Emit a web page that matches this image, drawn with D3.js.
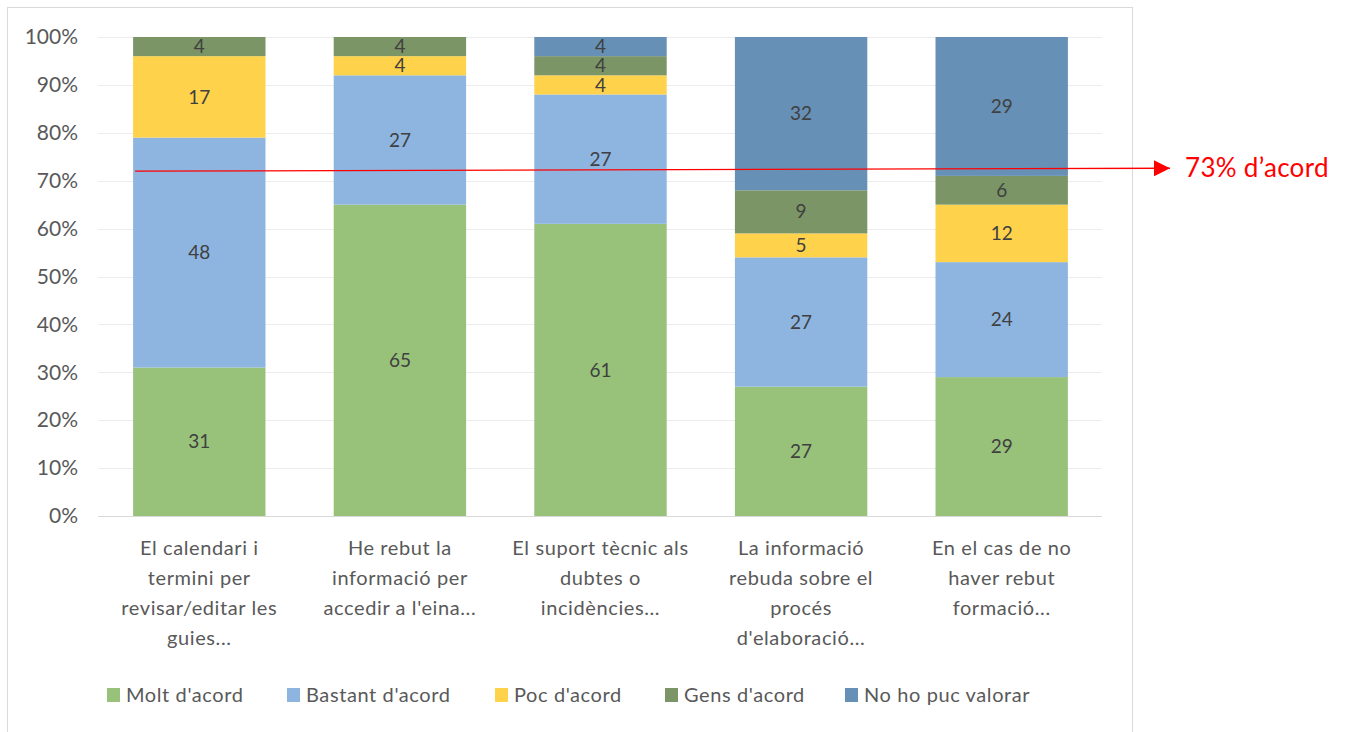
<!DOCTYPE html>
<html>
<head>
<meta charset="utf-8">
<script src="https://cdn.jsdelivr.net/npm/d3@7"></script>
<style>
  body { margin: 0; background: #fff; }
  text { font-family: Lato, "Open Sans", sans-serif; }
</style>
</head>
<body>
<script>
// categories (x axis labels, already wrapped)
var categories = [
  ["El calendari i", "termini per", "revisar/editar les", "guies..."],
  ["He rebut la", "informació per", "accedir a l'eina..."],
  ["El suport tècnic als", "dubtes o", "incidències..."],
  ["La informació", "rebuda sobre el", "procés", "d'elaboració..."],
  ["En el cas de no", "haver rebut", "formació..."]
];
var seriesNames = ["Molt d'acord", "Bastant d'acord", "Poc d'acord", "Gens d'acord", "No ho puc valorar"];
var molt    = [31, 65, 61, 27, 29];
var bastant = [48, 27, 27, 27, 24];
var poc     = [17, 4, 4, 5, 12];
var gens    = [4, 4, 4, 9, 6];
var noPuc   = [0, 0, 4, 32, 29];
var yTicks  = [0, 10, 20, 30, 40, 50, 60, 70, 80, 90, 100];
var refLine = [72, 72.6];
var refLabel = "73% d’acord";

var colors = ["#98c27a", "#8db5e0", "#ffd24b", "#7b9566", "#6790b6"];

var width = 1353, height = 732;
var svg = d3.select("body").append("svg")
  .attr("width", width).attr("height", height);

// marc del gràfic
svg.append("rect")
  .attr("x", 7.5).attr("y", 7.5)
  .attr("width", 1125).attr("height", 730)
  .attr("fill", "none").attr("stroke", "#d9d9d9");

var x = d3.scaleBand()
  .domain(d3.range(categories.length))
  .range([99, 1102])
  .paddingInner(0.34).paddingOuter(0.17);

var y = d3.scaleLinear().domain([0, 100]).range([516, 37]);

// graella
svg.append("g").selectAll("line")
  .data(yTicks)
  .join("line")
  .attr("x1", 98).attr("x2", 1102)
  .attr("y1", d => Math.round(y(d)) + 0.5)
  .attr("y2", d => Math.round(y(d)) + 0.5)
  .attr("stroke", d => d == 0 ? "#d9d9d9" : "#ececec")
  .attr("stroke-width", 1);

// eix y
var yAxis = svg.append("g")
  .attr("transform", "translate(90,0)")
  .call(d3.axisLeft(y).tickValues(yTicks).tickFormat(d => d + "%").tickSize(0).tickPadding(12));
yAxis.select(".domain").remove();
yAxis.selectAll("text")
  .attr("font-size", 21).attr("fill", "#595959")
  .style("font-family", "Lato, sans-serif");

// apilament
var table = categories.map(function (c, i) {
  return { i: i, s0: molt[i], s1: bastant[i], s2: poc[i], s3: gens[i], s4: noPuc[i] };
});
var stack = d3.stack().keys(["s0", "s1", "s2", "s3", "s4"]);
var layers = stack(table);

var layer = svg.append("g").selectAll("g")
  .data(layers)
  .join("g")
  .attr("fill", (d, k) => colors[k]);

layer.selectAll("rect")
  .data(d => d)
  .join("rect")
  .attr("x", d => x(d.data.i))
  .attr("width", x.bandwidth())
  .attr("y", d => y(d[1]))
  .attr("height", d => y(d[0]) - y(d[1]));

// etiquetes de dades
layer.selectAll("text")
  .data(d => d.filter(p => p[1] - p[0] > 0))
  .join("text")
  .attr("x", d => x(d.data.i) + x.bandwidth() / 2)
  .attr("y", d => (y(d[0]) + y(d[1])) / 2)
  .attr("dy", "0.35em")
  .attr("text-anchor", "middle")
  .attr("font-size", 19)
  .attr("fill", "#404040")
  .text(d => d[1] - d[0]);

// etiquetes de categories
var cat = svg.append("g").selectAll("text")
  .data(categories)
  .join("text")
  .attr("text-anchor", "middle")
  .attr("font-size", 20)
  .attr("letter-spacing", 0.6)
  .attr("fill", "#595959");
cat.selectAll("tspan")
  .data((d, i) => d.map(t => ({ t: t, i: i })))
  .join("tspan")
  .attr("x", d => x(d.i) + x.bandwidth() / 2)
  .attr("y", (d, j) => 555 + j * 30)
  .text(d => d.t);

// línia vermella del 73%
svg.append("defs").append("marker")
  .attr("id", "arrow")
  .attr("viewBox", "0 0 10 10")
  .attr("refX", 10).attr("refY", 5)
  .attr("markerWidth", 16).attr("markerHeight", 16)
  .attr("markerUnits", "userSpaceOnUse")
  .attr("orient", "auto")
  .append("path")
  .attr("d", "M0,0L10,5L0,10Z")
  .attr("fill", "#ff0000");

svg.append("line")
  .attr("x1", x(0) + 2).attr("y1", y(refLine[0]))
  .attr("x2", 1170).attr("y2", y(refLine[1]))
  .attr("stroke", "#ff0000").attr("stroke-width", 1.3)
  .attr("marker-end", "url(#arrow)");

svg.append("text")
  .attr("x", 1185).attr("y", y(refLine[1]))
  .attr("dy", "0.35em")
  .attr("font-size", 26)
  .attr("letter-spacing", 0.3)
  .attr("fill", "#ff0000")
  .text(refLabel);

// llegenda
var legendX = [107, 287, 495, 665, 845];
var leg = svg.append("g").selectAll("g")
  .data(seriesNames)
  .join("g")
  .attr("transform", (d, i) => "translate(" + legendX[i] + ",695)");
leg.append("rect")
  .attr("x", 0).attr("y", -7)
  .attr("width", 13).attr("height", 14)
  .attr("fill", (d, i) => colors[i]);
leg.append("text")
  .attr("x", 19).attr("dy", "0.35em")
  .attr("font-size", 20)
  .attr("letter-spacing", 0.6)
  .attr("fill", "#595959")
  .text(d => d);
</script>
</body>
</html>
